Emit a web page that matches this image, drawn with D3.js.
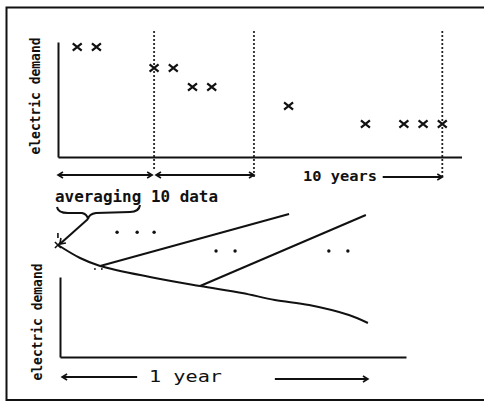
<!DOCTYPE html>
<html><head><meta charset="utf-8">
<script src="https://cdn.jsdelivr.net/npm/d3@7"></script>
<style>body{margin:0;background:#fff}svg{display:block}</style>
</head><body>
<script>
// ---- data ----
const topIdx    = [0, 1, 4, 5, 6, 7, 11, 15, 17, 18, 19];
const topDemand = [5.5, 5.5, 4.45, 4.45, 3.5, 3.5, 2.55, 1.65, 1.65, 1.65, 1.65];
const windowBounds = [4, 9.2, 19];
const windowBottoms = [-0.75, -1.05, -1.15];

const curveX = [-0.6, 5.8, 11.6, 26, 40.5, 52.6, 62.1, 72, 83.5, 89];
const curveY = [140, 123.75, 113.75, 100, 88.75, 80, 71.25, 65, 52.5, 42.5];
const branch1X = [11.6, 66.2], branch1Y = [113.75, 178.75];
const branch2X = [40.5, 88.4], branch2Y = [88.75, 177.5];
const dotsX = [16.5, 22.3, 27.2, 45.1, 50.6, 77.7, 83.2, 10.1, 12.1];
const dotsY = [156, 156, 156, 132.5, 132.5, 132.5, 132.5, 110, 110];
const dotsR = [1.7, 1.7, 1.7, 1.7, 1.7, 1.7, 1.7, 0.9, 0.9];

const yLabel = "electric demand";
const avgLabel = "averaging 10 data";
const tenYears = "10 years";
const oneYear = "1 year";

// ---- drawing ----
const W = 484, H = 402;
const svg = d3.select("body").append("svg").attr("width", W).attr("height", H);
svg.append("rect").attr("width", W).attr("height", H).attr("fill", "#fff");
const ink = "#111";

// frame
svg.append("path").attr("d", "M484,7.5 L6.5,7.5 L6.5,400 L484,400")
  .attr("fill", "none").attr("stroke", ink).attr("stroke-width", 2);

// top scales
const xT = d3.scaleLinear().domain([-1, 20]).range([58, 461.5]);
const yT = d3.scaleLinear().domain([0, 5.75]).range([157, 42]);
const gTop = svg.append("g");
gTop.append("g").attr("transform", `translate(0,${yT(0)})`)
  .call(d3.axisBottom(xT).ticks(0).tickSize(0).tickSizeOuter(0))
  .call(g => g.select(".domain").attr("stroke", ink).attr("stroke-width", 2));
gTop.append("g").attr("transform", `translate(${xT(-1)},0)`)
  .call(d3.axisLeft(yT).ticks(0).tickSize(0).tickSizeOuter(0))
  .call(g => g.select(".domain").attr("stroke", ink).attr("stroke-width", 2));

// dotted window lines
gTop.selectAll("line.win").data(windowBounds).join("line")
  .attr("x1", d => xT(d)).attr("x2", d => xT(d))
  .attr("y1", yT(6.25)).attr("y2", (d, i) => yT(windowBottoms[i]))
  .attr("stroke", ink).attr("stroke-width", 2.2).attr("stroke-linecap", "round")
  .attr("stroke-dasharray", "0,4");

// crosses
const cs = 4.5;
gTop.selectAll("path.cross").data(topIdx).join("path")
  .attr("d", (d, i) => {
    const x = xT(d), y = yT(topDemand[i]);
    return `M${x-cs},${y-cs*0.8}L${x+cs},${y+cs*0.8}M${x-cs},${y+cs*0.8}L${x+cs},${y-cs*0.8}`;
  })
  .attr("stroke", ink).attr("stroke-width", 2.2).attr("fill", "none");

// arrow helper
function arrow(g, x1, y, x2, headL, headR) {
  g.append("line").attr("x1", x1).attr("x2", x2).attr("y1", y).attr("y2", y)
    .attr("stroke", ink).attr("stroke-width", 2);
  const h = 5;
  if (headL) g.append("path").attr("d", `M${x1+h},${y-3}L${x1},${y}L${x1+h},${y+3}`)
    .attr("fill", "none").attr("stroke", ink).attr("stroke-width", 1.6);
  if (headR) g.append("path").attr("d", `M${x2-h},${y-3}L${x2},${y}L${x2-h},${y+3}`)
    .attr("fill", "none").attr("stroke", ink).attr("stroke-width", 1.6);
}
arrow(gTop, xT(-1), yT(-0.9), xT(3.9), true, true);
arrow(gTop, xT(4.1), yT(-0.9), xT(9.2), true, true);
arrow(gTop, xT(15.9), yT(-1.0), xT(19), false, true);
gTop.append("text").attr("x", 303).attr("y", 181).text(tenYears)
  .attr("font-family", "DejaVu Sans Mono").attr("font-weight", "bold").attr("font-size", 14)
  .attr("textLength", 74).attr("lengthAdjust", "spacingAndGlyphs").attr("fill", ink);

// y labels
function ylab(x, y) {
  svg.append("text").attr("transform", `translate(${x},${y}) rotate(-90)`)
    .attr("text-anchor", "middle").attr("dominant-baseline", "central")
    .attr("font-family", "DejaVu Sans Mono").attr("font-size", 14).attr("font-weight", "bold")
    .attr("textLength", 117).attr("lengthAdjust", "spacingAndGlyphs")
    .attr("fill", ink).text(yLabel);
}
ylab(35, 96);
ylab(37, 322);

// bottom scales
const xB = d3.scaleLinear().domain([0, 100]).range([60, 406]);
const yB = d3.scaleLinear().domain([0, 100]).range([357, 277]);
const gB = svg.append("g");
gB.append("g").attr("transform", `translate(0,${yB(0)})`)
  .call(d3.axisBottom(xB).ticks(0).tickSize(0).tickSizeOuter(0))
  .call(g => g.select(".domain").attr("stroke", ink).attr("stroke-width", 2));
gB.append("g").attr("transform", `translate(${xB(0)},0)`)
  .call(d3.axisLeft(yB).ticks(0).tickSize(0).tickSizeOuter(0))
  .call(g => g.select(".domain").attr("stroke", ink).attr("stroke-width", 2));

const line = d3.line().x(d => xB(d[0])).y(d => yB(d[1])).curve(d3.curveCatmullRom);
gB.append("path").attr("d", line(d3.zip(curveX, curveY)))
  .attr("fill", "none").attr("stroke", ink).attr("stroke-width", 2);
gB.append("path").attr("d", line(d3.zip(branch1X, branch1Y)))
  .attr("fill", "none").attr("stroke", ink).attr("stroke-width", 2);
gB.append("path").attr("d", line(d3.zip(branch2X, branch2Y)))
  .attr("fill", "none").attr("stroke", ink).attr("stroke-width", 2);
gB.selectAll("circle.dot").data(dotsX).join("circle")
  .attr("cx", d => xB(d)).attr("cy", (d, i) => yB(dotsY[i])).attr("r", (d, i) => dotsR[i])
  .attr("fill", ink);

// start point cross + tick
{
  const x = xB(curveX[0]), y = yB(curveY[0]);
  gB.append("path").attr("d", `M${x-3},${y-3}L${x+3},${y+3}M${x-3},${y+3}L${x+3},${y-3}M${x},${y-12}L${x},${y-7}`)
    .attr("stroke", ink).attr("stroke-width", 1.6).attr("fill", "none");
}

// brace and pointer
gB.append("path")
  .attr("d", "M57,207 Q58,213 68,213 L82,213 Q87,214 88,219 Q89,214 96,213 L130,212 Q139,212 140,205")
  .attr("fill", "none").attr("stroke", ink).attr("stroke-width", 2);
gB.append("path").attr("d", `M88,219 L${xB(curveX[0])+2},${yB(curveY[0])-1}`)
  .attr("fill", "none").attr("stroke", ink).attr("stroke-width", 2);
gB.append("path").attr("d", `M${xB(curveX[0])+3},${yB(curveY[0])-7} L${xB(curveX[0])+2},${yB(curveY[0])-1} L${xB(curveX[0])+8},${yB(curveY[0])-2}`)
  .attr("fill", "none").attr("stroke", ink).attr("stroke-width", 1.6);
gB.append("text").attr("x", 55).attr("y", 202).text(avgLabel)
  .attr("font-family", "DejaVu Sans Mono").attr("font-weight", "bold").attr("font-size", 15)
  .attr("textLength", 163).attr("lengthAdjust", "spacingAndGlyphs").attr("fill", ink);

// bottom arrows
arrow(gB, xB(0.6), yB(-25), xB(22.3), true, false);
arrow(gB, xB(62.1), yB(-27.5), xB(89), false, true);
gB.append("text").attr("x", 149).attr("y", 382).text(oneYear)
  .attr("font-family", "DejaVu Sans Mono").attr("font-size", 15)
  .attr("textLength", 73).attr("lengthAdjust", "spacingAndGlyphs").attr("fill", ink);
</script>
</body></html>
